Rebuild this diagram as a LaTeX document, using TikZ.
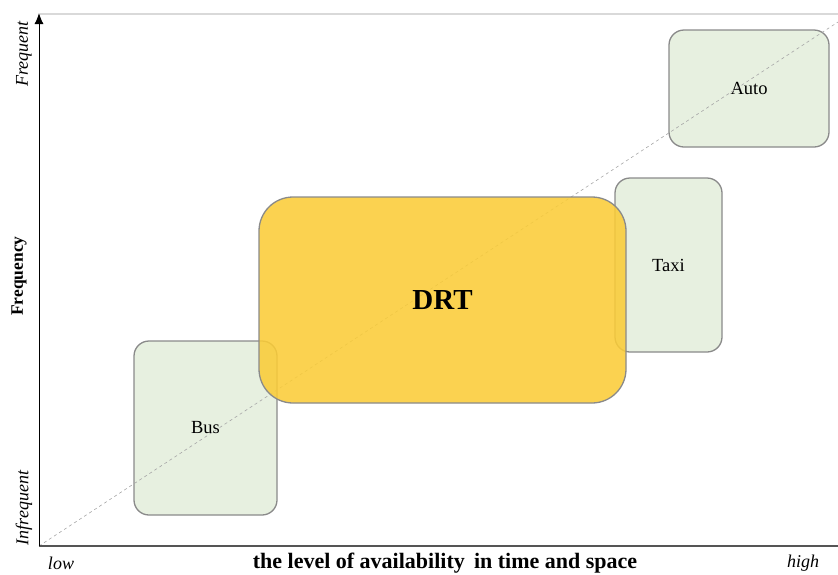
\documentclass[tikz,border=0pt]{standalone}
\usepackage{fontspec}
\setmainfont{Liberation Serif}
\usetikzlibrary{arrows.meta}
\definecolor{boxgreen}{HTML}{E7F0E0}
\definecolor{boxedge}{HTML}{8A8A8A}
\definecolor{drtyellow}{HTML}{FACC38}
\definecolor{axisgray}{HTML}{555555}
\tikzset{
  modebox/.style={draw=boxedge, line width=1.3pt, fill=boxgreen, rounded corners=15pt, font=\fontsize{18.5}{22}\selectfont},
  drtbox/.style={draw=boxedge, line width=1.3pt, fill=drtyellow, fill opacity=0.88, text opacity=1, rounded corners=34pt, font=\bfseries\fontsize{29}{34}\selectfont},
  ticklab/.style={font=\itshape\fontsize{18}{21}\selectfont},
}
\begin{document}
\begin{tikzpicture}[x=1pt,y=-1pt]
\useasboundingbox (0,0) rectangle (838,574);
% frame top
\draw[gray!30, line width=1.5pt] (40,14) -- (838,14);
% boxes
\node[modebox, minimum width=143pt, minimum height=174pt] (bus) at (205.5,428) {Bus};
\node[modebox, minimum width=107pt, minimum height=174pt] (taxi) at (668.5,265) {Taxi};
\node[modebox, minimum width=160pt, minimum height=117pt] (auto) at (749,88.5) {Auto};
% diagonal
\coordinate (o) at (39,546);
\coordinate (tr) at (838,22);
\draw[gray!70, dashed, line width=0.6pt] (o) -- (tr);
% DRT
\node[drtbox, minimum width=367pt, minimum height=206pt] (drt) at (442.5,300) {DRT};
% axes
\coordinate (xend) at (838,546);
\coordinate (ytop) at (39,13);
\draw[axisgray, line width=1.2pt] (o) -- (xend);
\draw[black, line width=1pt, -{Latex[length=11pt,width=9pt]}] (o) -- (ytop);
% labels
\node[ticklab, rotate=90] (freq) at (24,54) {Frequent};
\node[ticklab, rotate=90] (infreq) at (24,508) {Infrequent};
\node[font=\bfseries\fontsize{17.5}{21}\selectfont, rotate=90] (ylab) at (19,276) {Frequency};
\node[ticklab] (low) at (61,563) {low};
\node[ticklab] (high) at (803,563) {high};
\node[font=\bfseries\fontsize{22}{26}\selectfont] (xlab) at (445,563) {the level of availability\, in time and space};
\end{tikzpicture}
\end{document}
